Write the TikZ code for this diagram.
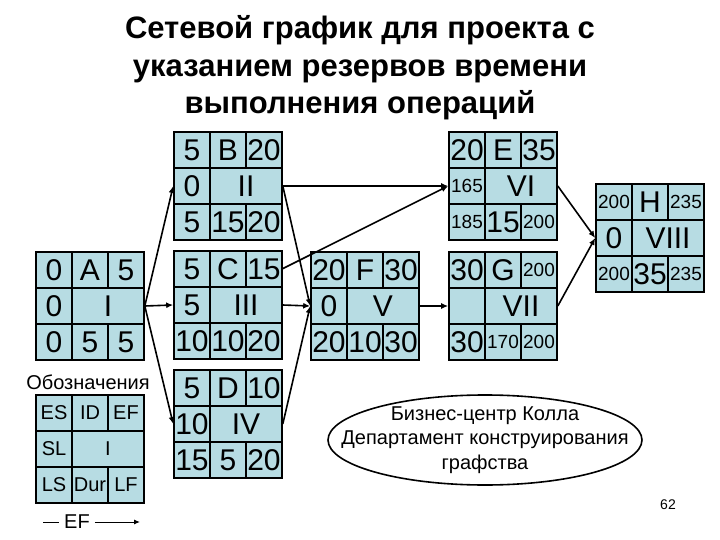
\documentclass[tikz,border=0pt]{standalone}
\usepackage{fontspec}
\setmainfont{Liberation Sans}
\usetikzlibrary{arrows.meta,shapes.geometric}

\definecolor{cellblue}{RGB}{183,220,227}

\tikzset{
  actbox/.style={draw, line width=1.6pt, fill=cellblue, minimum width=108pt, minimum height=108pt, inner sep=0pt},
  gridline/.style={line width=1.6pt},
  celltxt/.style={font=\fontsize{30}{30}\selectfont, inner sep=0pt},
  link/.style={line width=1.6pt, -{Latex[length=7pt,width=6pt]}},
}

% small numbers inside the cells
\newcommand{\smnum}{\fontsize{19}{19}\selectfont}
\newcommand{\legfont}{\fontsize{20}{20}\selectfont}

% grid and texts of one activity box: name, then the eight cells
\newcommand{\boxcells}[9]{%
  \draw[gridline] ([shift={(-54,-18)}]#1.center) -- ([shift={(54,-18)}]#1.center);
  \draw[gridline] ([shift={(-54,18)}]#1.center) -- ([shift={(54,18)}]#1.center);
  \draw[gridline] ([shift={(-18,-54)}]#1.center) -- ([shift={(-18,54)}]#1.center);
  \draw[gridline] ([shift={(18,-54)}]#1.center) -- ([shift={(18,-18)}]#1.center);
  \draw[gridline] ([shift={(18,18)}]#1.center) -- ([shift={(18,54)}]#1.center);
  \node[celltxt] (#1-tl) at ([shift={(-36,-36)}]#1.center) {#2};
  \node[celltxt] (#1-tc) at ([shift={(0,-36)}]#1.center) {#3};
  \node[celltxt] (#1-tr) at ([shift={(36,-36)}]#1.center) {#4};
  \node[celltxt] (#1-ml) at ([shift={(-36,0)}]#1.center) {#5};
  \node[celltxt] (#1-mc) at ([shift={(18,0)}]#1.center) {#6};
  \node[celltxt] (#1-bl) at ([shift={(-36,36)}]#1.center) {#7};
  \node[celltxt] (#1-bc) at ([shift={(0,36)}]#1.center) {#8};
  \node[celltxt] (#1-br) at ([shift={(36,36)}]#1.center) {#9};
  \coordinate (#1-r1) at ([shift={(54,-36)}]#1.center);
}

\begin{document}
\begin{tikzpicture}[x=1pt, y=-1pt]
  \useasboundingbox[fill=white] (0,0) rectangle (720,540);

  % заголовок
  \node[font=\bfseries\fontsize{31}{37.5}\selectfont, align=center] (title) at (360,68)
    {Сетевой график для проекта с\\указанием резервов времени\\выполнения операций};

  % операции
  \node[actbox] (A) at (90,306) {};
  \boxcells{A}{0}{A}{5}{0}{I}{0}{5}{5}
  \node[actbox] (B) at (228,186) {};
  \boxcells{B}{5}{B}{20}{0}{II}{5}{15}{20}
  \node[actbox] (C) at (228,305) {};
  \boxcells{C}{5}{C}{15}{5}{III}{10}{10}{20}
  \node[actbox] (D) at (228,424) {};
  \boxcells{D}{5}{D}{10}{10}{IV}{15}{5}{20}
  \node[actbox] (E) at (503,186) {};
  \boxcells{E}{20}{E}{35}{\smnum 165}{VI}{\smnum 185}{15}{\smnum 200}
  \node[actbox] (F) at (365,306) {};
  \boxcells{F}{20}{F}{30}{0}{V}{20}{10}{30}
  \node[actbox] (G) at (503,306) {};
  \boxcells{G}{30}{G}{\smnum 200}{}{VII}{30}{\smnum 170}{\smnum 200}
  \node[actbox] (H) at (650,238) {};
  \boxcells{H}{\smnum 200}{H}{\smnum 235}{0}{VIII}{\smnum 200}{35}{\smnum 235}

  % связи
  \draw[link] (A.east) -- (B.west);
  \draw[link] (A.east) -- (C.west);
  \draw[link] (A.east) -- (D.west);
  \draw[link] (B.east) -- (E.west);
  \draw[link] (B.east) -- (F.west);
  \draw[link] (C-r1) -- (E.west);
  \draw[link] (C.east) -- (F.west);
  \draw[link] (D.east) -- (F.west);
  \draw[link] (F.east) -- (G.west);
  \draw[link] (E.east) -- (H.west);
  \draw[link] (G.east) -- (H.west);

  % обозначения
  \node[font=\legfont] (legtitle) at (88,382) {Обозначения};
  \node[actbox] (L) at (90,449) {};
  \boxcells{L}{\legfont ES}{\legfont ID}{\legfont EF}{\legfont SL}{\legfont I}{\legfont LS}{\legfont Dur}{\legfont LF}
  \node[font=\legfont, inner sep=1pt] (legef) at (77,522) {EF};
  \coordinate (efa) at (43,522);
  \coordinate (efb) at (140,522);
  \draw[line width=1pt] (efa) -- ([xshift=-4pt]legef.west);
  \draw[line width=1pt, -{Latex[length=6pt,width=5pt]}] ([xshift=4pt]legef.east) -- (efb);

  % подпись
  \node[draw, ellipse, line width=1.6pt, minimum width=314pt, minimum height=90pt,
        inner xsep=-40pt, inner ysep=-10pt,
        align=center, font=\fontsize{20}{24.5}\selectfont] (firm) at (485,440)
    {Бизнес-центр Колла\\Департамент конструирования\\графства};
  \node[font=\fontsize{14}{14}\selectfont] (page) at (668,505) {62};
\end{tikzpicture}
\end{document}
